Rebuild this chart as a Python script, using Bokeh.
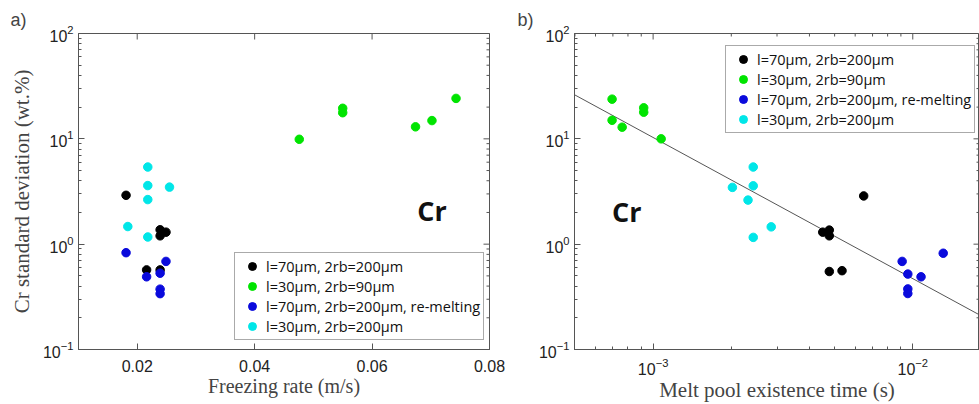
import math
from bokeh.plotting import figure
from bokeh.models import FixedTicker, Legend, LegendItem, Label
from bokeh.layouts import row
from bokeh.embed import file_html
from bokeh.resources import INLINE

# ---------------- data ----------------
series_labels = ["l=70μm, 2rb=200μm", "l=30μm, 2rb=90μm",
                 "l=70μm, 2rb=200μm, re-melting", "l=30μm, 2rb=200μm"]
series_colors = ["#000000", "#00e400", "#0a0adc", "#00e6e8"]

# panel a) Cr standard deviation vs freezing rate (m/s)
a_black_x = [0.0181, 0.0239, 0.0249, 0.0239, 0.0216, 0.0239]
a_black_y = [2.91, 1.37, 1.30, 1.20, 0.57, 0.57]
a_green_x = [0.0476, 0.0550, 0.0550, 0.0674, 0.0702, 0.0743]
a_green_y = [9.9, 19.5, 17.7, 13.0, 14.9, 24.2]
a_blue_x = [0.0181, 0.0249, 0.0239, 0.0216, 0.0239, 0.0239]
a_blue_y = [0.83, 0.686, 0.53, 0.49, 0.374, 0.339]
a_cyan_x = [0.0218, 0.0218, 0.0255, 0.0218, 0.0184, 0.0218]
a_cyan_y = [5.4, 3.6, 3.48, 2.65, 1.47, 1.17]

# panel b) Cr standard deviation vs melt pool existence time (s)
b_black_x = [6.47e-3, 4.5e-3, 4.77e-3, 4.77e-3, 4.77e-3, 5.34e-3]
b_black_y = [2.87, 1.30, 1.36, 1.20, 0.55, 0.56]
b_green_x = [6.95e-4, 6.95e-4, 7.6e-4, 9.2e-4, 9.2e-4, 1.074e-3]
b_green_y = [23.8, 15.0, 12.9, 19.7, 17.9, 10.0]
b_blue_x = [9.1e-3, 9.57e-3, 9.57e-3, 9.57e-3, 1.076e-2, 1.31e-2]
b_blue_y = [0.686, 0.52, 0.376, 0.34, 0.49, 0.82]
b_cyan_x = [2.43e-3, 2.43e-3, 2.02e-3, 2.32e-3, 2.85e-3, 2.43e-3]
b_cyan_y = [5.4, 3.58, 3.46, 2.62, 1.46, 1.16]

# power-law fit: y = fit_coef * (t / fit_ref) ** fit_exp
fit_coef = 10.3
fit_ref = 1e-3
fit_exp = -1.34
fit_t = [5e-4, 0.02]

y_major = [0.1, 1, 10, 100]
y_minor = [k * 10.0 ** e for e in (-1, 0, 1) for k in range(2, 10)]
a_x_major = [0.02, 0.04, 0.06, 0.08]
b_x_major = [1e-3, 1e-2]
b_x_minor = ([k * 1e-4 for k in range(5, 10)] + [k * 1e-3 for k in range(2, 10)]
             + [k * 1e-2 for k in range(2, 10)])

a_xr = (0.01, 0.08)
b_xr = (4.98e-4, 1.807e-2)
yr = (0.1, 100)

AX = "#555555"


def style_axis(ax):
    ax.major_tick_in = 6
    ax.major_tick_out = 0
    ax.minor_tick_in = 3
    ax.minor_tick_out = 0
    ax.axis_line_color = AX
    ax.major_tick_line_color = AX
    ax.minor_tick_line_color = AX
    ax.major_label_text_font = "Liberation Sans"
    ax.major_label_text_font_size = "16px"
    ax.major_label_text_color = "#222222"
    ax.axis_label_text_font = "Liberation Serif"
    ax.axis_label_text_font_style = "normal"
    ax.axis_label_text_font_size = "20px"
    ax.axis_label_text_color = "#444444"


def make_fig(width, x_range, x_type, bl, br, title, toff):
    p = figure(width=width, height=404, x_range=x_range, y_range=yr,
               x_axis_type=x_type, y_axis_type="log",
               output_backend="svg", toolbar_location=None,
               min_border_left=bl, min_border_right=br,
               min_border_top=33, min_border_bottom=53)
    p.xgrid.visible = False
    p.ygrid.visible = False
    p.outline_line_color = AX
    p.background_fill_color = "white"
    p.border_fill_color = "white"
    p.title.text = title
    p.title.align = "left"
    p.title.offset = toff
    p.title.standoff = 8
    p.title.text_font = "Liberation Sans"
    p.title.text_font_style = "normal"
    p.title.text_font_size = "18px"
    return p


def mirror_ticks(p, xticks, xminor, xend, yticks, yminor, yend):
    # inward ticks on top and right frame edges (half of each dash is clipped by the frame)
    p.scatter(xticks, [yend] * len(xticks), marker="dash", angle=math.pi / 2,
              size=12, line_color=AX, line_width=1)
    if xminor:
        p.scatter(xminor, [yend] * len(xminor), marker="dash", angle=math.pi / 2,
                  size=6, line_color=AX, line_width=1)
    p.scatter([xend] * len(yticks), yticks, marker="dash", size=12, line_color=AX, line_width=1)
    p.scatter([xend] * len(yminor), yminor, marker="dash", size=6, line_color=AX, line_width=1)


def add_series(p, xs, ys):
    rs = []
    for x, y, c in zip(xs, ys, series_colors):
        rs.append(p.scatter(x, y, size=8.5, color=c, line_width=1))
    return rs


def make_legend(p, rs, loc):
    leg = Legend(items=[LegendItem(label=l, renderers=[r]) for l, r in zip(series_labels, rs)],
                 location=loc)
    leg.label_text_font = "Open Sans"
    leg.label_text_font_size = "14.5px"
    leg.label_text_color = "#111111"
    leg.glyph_width = 28
    leg.glyph_height = 20
    leg.label_height = 20
    leg.label_standoff = -5
    leg.spacing = 0
    leg.padding = 3
    leg.margin = 0
    leg.border_line_color = AX
    leg.border_line_width = 1
    leg.background_fill_alpha = 1
    p.add_layout(leg)


# ---------------- panel a ----------------
pa = make_fig(515, a_xr, "linear", 78, 26, "a)", -68)
ty = FixedTicker(ticks=y_major, minor_ticks=y_minor)
pa.xaxis.ticker = FixedTicker(ticks=a_x_major, minor_ticks=[])
pa.yaxis.ticker = ty
pa.xaxis.axis_label = "Freezing rate (m/s)"
pa.yaxis.axis_label = "Cr standard deviation (wt.%)"
style_axis(pa.xaxis[0])
style_axis(pa.yaxis[0])
pa.xaxis.major_label_standoff = 10
pa.xaxis.axis_label_standoff = 0
pa.yaxis.axis_label_standoff = 6
pa.yaxis.axis_label_text_font_size = "21px"
mirror_ticks(pa, a_x_major, [], a_xr[1], y_major, y_minor, yr[1])

ra = add_series(pa, [a_black_x, a_green_x, a_blue_x, a_cyan_x],
                [a_black_y, a_green_y, a_blue_y, a_cyan_y])
make_legend(pa, ra, (156, 9))
pa.add_layout(Label(x=0.0677, y=2.1, text="Cr", text_font="Open Sans", text_font_style="bold",
                    text_font_size="27px", text_baseline="middle", text_align="left",
                    text_color="#111111"))

# ---------------- panel b ----------------
pb = make_fig(464, b_xr, "log", 59, 0, "b)", -57)
pb.xaxis.ticker = FixedTicker(ticks=b_x_major, minor_ticks=b_x_minor)
pb.yaxis.ticker = ty
pb.xaxis.axis_label = "Melt pool existence time (s)"
style_axis(pb.xaxis[0])
style_axis(pb.yaxis[0])
pb.xaxis.major_label_standoff = 8
pb.xaxis.axis_label_standoff = 0
pb.xaxis.axis_label_text_font_size = "21px"
mirror_ticks(pb, b_x_major, b_x_minor, b_xr[1], y_major, y_minor, yr[1])

fit_y = [fit_coef * (t / fit_ref) ** fit_exp for t in fit_t]
pb.line(fit_t, fit_y, line_color="#555555", line_width=1)
rb = add_series(pb, [b_black_x, b_green_x, b_blue_x, b_cyan_x],
                [b_black_y, b_green_y, b_blue_y, b_cyan_y])
make_legend(pb, rb, (151, 216))
pb.add_layout(Label(x=6.95e-4, y=2.03, text="Cr", text_font="Open Sans", text_font_style="bold",
                    text_font_size="27px", text_baseline="middle", text_align="left",
                    text_color="#111111"))

layout = row(pa, pb)
open("out.html", "w").write(file_html(layout, INLINE))
